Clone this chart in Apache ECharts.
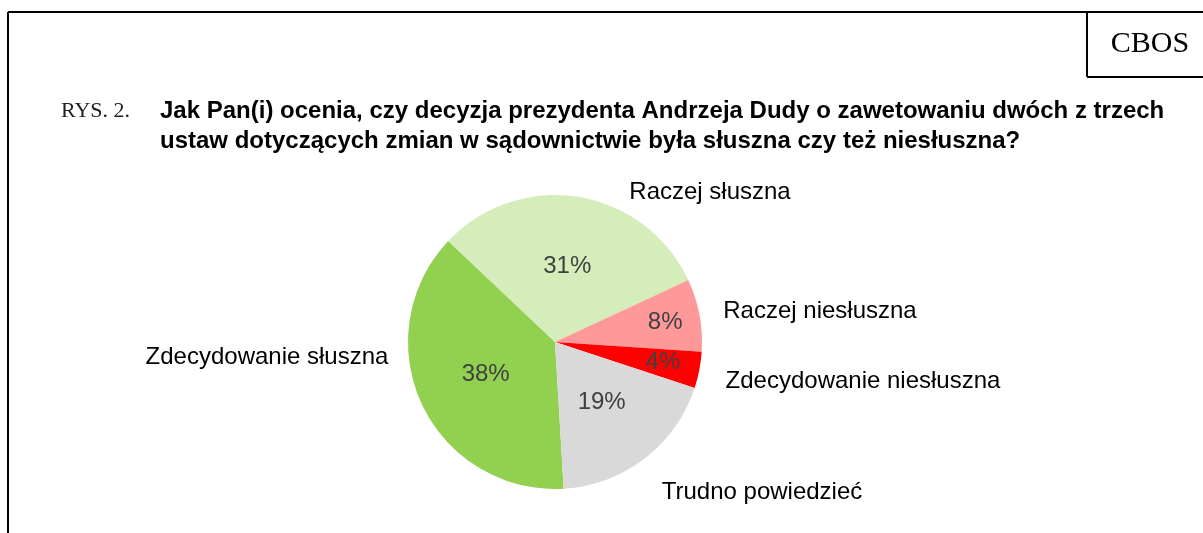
<!DOCTYPE html>
<html>
<head>
<meta charset="utf-8">
<script src="https://cdn.jsdelivr.net/npm/echarts@6/dist/echarts.min.js"></script>
<style>
  html, body { margin: 0; padding: 0; background: #fff; }
  #main { width: 1203px; height: 533px; }
</style>
</head>
<body>
<div id="main"></div>
<script>
  // answers and shares (%)
  var categories = ['Zdecydowanie słuszna', 'Raczej słuszna', 'Raczej niesłuszna',
                    'Zdecydowanie niesłuszna', 'Trudno powiedzieć'];
  var values = [38, 31, 8, 4, 19];
  var colors = ['#92D050', '#D5EDBB', '#FF9999', '#FF0000', '#D9D9D9'];

  var figNo = 'RYS. 2.';
  var question = 'Jak Pan(i) ocenia, czy decyzja prezydenta Andrzeja Dudy o zawetowaniu dwóch z trzech\nustaw dotyczących zmian w sądownictwie była słuszna czy też niesłuszna?';

  // where the category names sit (centre of text)
  var namePos = [[267, 357], [710, 192], [820, 311], [863, 381], [762, 492]];
  // nudges for the percent labels of the thin slices
  var pctShift = [[0, 0], [0, 0], [35, -6], [33, 6], [0, 0]];

  var dom = document.getElementById('main');
  var myChart = echarts.init(dom);

  var pieData = [];
  for (var i = 0; i < categories.length; i++) {
    pieData.push({ name: categories[i], value: values[i], itemStyle: { color: colors[i] } });
  }

  var option = {
    animation: false,
    backgroundColor: '#fff',
    graphic: [
      { type: 'line', shape: { x1: 8, y1: 12, x2: 1203, y2: 12 }, style: { stroke: '#000', lineWidth: 2 } },
      { type: 'line', shape: { x1: 8, y1: 12, x2: 8, y2: 533 }, style: { stroke: '#000', lineWidth: 2 } },
      { type: 'line', shape: { x1: 1087, y1: 12, x2: 1087, y2: 77 }, style: { stroke: '#000', lineWidth: 2 } },
      { type: 'line', shape: { x1: 1087, y1: 77, x2: 1203, y2: 77 }, style: { stroke: '#000', lineWidth: 2 } },
      { type: 'text', x: 1150, y: 44,
        style: { text: 'CBOS', font: '30px "Liberation Serif", "Times New Roman", serif',
                 fill: '#000', textAlign: 'center', textVerticalAlign: 'middle' } },
      { type: 'text', x: 61, y: 111,
        style: { text: figNo, font: '22px "Liberation Serif", "Times New Roman", serif',
                 fill: '#222', textAlign: 'left', textVerticalAlign: 'middle' } },
      { type: 'text', x: 160, y: 96,
        style: { text: question, font: 'bold 24px "Liberation Sans", Arial, sans-serif',
                 fill: '#000', textAlign: 'left', textVerticalAlign: 'top', lineHeight: 30 } }
    ],
    series: [
      {
        type: 'pie',
        center: [555, 342],
        radius: 147,
        startAngle: 273.4,
        clockwise: true,
        avoidLabelOverlap: false,
        silent: true,
        data: pieData,
        itemStyle: { borderWidth: 0 },
        label: {
          position: 'inside',
          formatter: '{c}%',
          color: '#404040',
          fontFamily: '"Liberation Sans", Arial, sans-serif',
          fontSize: 24
        },
        labelLine: { show: false },
        labelLayout: function (p) {
          return { dx: pctShift[p.dataIndex][0], dy: pctShift[p.dataIndex][1] };
        }
      },
      {
        type: 'pie',
        center: [555, 342],
        radius: 147,
        startAngle: 273.4,
        clockwise: true,
        avoidLabelOverlap: false,
        silent: true,
        z: 1,
        data: categories.map(function (c, i) { return { name: c, value: values[i] }; }),
        itemStyle: { color: 'rgba(0,0,0,0)', borderWidth: 0 },
        label: {
          position: 'outside',
          formatter: '{b}',
          color: '#000',
          fontFamily: '"Liberation Sans", Arial, sans-serif',
          fontSize: 24
        },
        labelLine: { show: false },
        labelLayout: function (p) {
          return { x: namePos[p.dataIndex][0], y: namePos[p.dataIndex][1],
                   align: 'center', verticalAlign: 'middle' };
        }
      }
    ]
  };

  if (option && typeof option === 'object') {
    myChart.setOption(option, true);
  }
</script>
</body>
</html>
